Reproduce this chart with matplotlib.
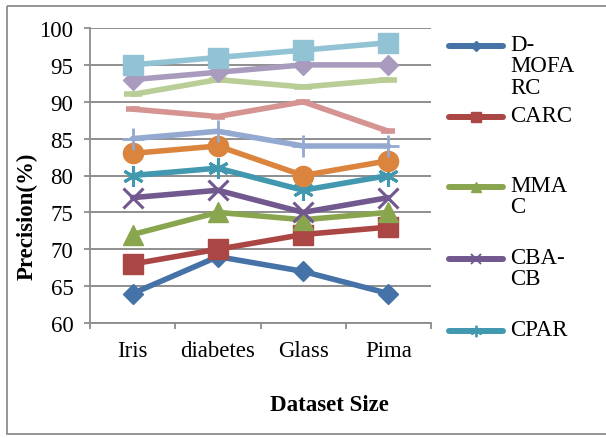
import matplotlib
matplotlib.use("Agg")
import matplotlib.pyplot as plt
from matplotlib.patches import Rectangle
from matplotlib.lines import Line2D

plt.rcParams['font.family'] = ['Liberation Serif', 'DejaVu Serif']

# data
datasets = ["Iris", "diabetes", "Glass", "Pima"]
d_mofarc = [64, 69, 67, 64]
carc = [68, 70, 72, 73]
mmac = [72, 75, 74, 75]
cba_cb = [77, 78, 75, 77]
cpar = [80, 81, 78, 80]
series6 = [83, 84, 80, 82]
series7 = [85, 86, 84, 84]
series8 = [89, 88, 90, 86]
series9 = [91, 93, 92, 93]
series10 = [93, 94, 95, 95]
series11 = [95, 96, 97, 98]

legend_names = ["D-\nMOFA\nRC", "CARC", "MMA\nC", "CBA-\nCB", "CPAR"]
yticks = [60, 65, 70, 75, 80, 85, 90, 95, 100]

# (values, color, marker, markersize, markeredgewidth)
styles = [
    (d_mofarc, "#4572A7", "D", 10, 1),
    (carc, "#AA4643", "s", 14, 1),
    (mmac, "#89A54E", "^", 14, 1),
    (cba_cb, "#71588F", "x", 14, 2.2),
    (cpar, "#4198AF", (6, 2, 0), 15, 2.2),
    (series6, "#DB843D", "o", 14.5, 1),
    (series7, "#93A9CF", "+", 16, 2),
    (series8, "#D59392", "_", 10, 4),
    (series9, "#B9CD96", "_", 13, 4),
    (series10, "#A99BBD", "D", 10, 1),
    (series11, "#92C3D5", "s", 14.5, 1),
]

fig = plt.figure(figsize=(6.06, 4.39), dpi=100)

# overlay axes in pixel coordinates for the frame and the legend
over = fig.add_axes([0, 0, 1, 1], zorder=5)
over.set_xlim(0, 606)
over.set_ylim(439, 0)
over.axis("off")
over.patch.set_alpha(0)
over.add_patch(Rectangle((7, 7), 610, 428, fill=False, edgecolor="#8c8c8c", lw=1.3))

ax = fig.add_axes([90 / 606, 1 - 324 / 439, (431 - 90) / 606, (324 - 29) / 439])
xs = [i + 0.5 for i in range(len(datasets))]
for vals, col, mk, ms, mew in styles:
    ax.plot(xs, vals, color=col, lw=4, marker=mk, ms=ms, mew=mew,
            mec=col, mfc=col, solid_capstyle="round", clip_on=False)

ax.set_xlim(0, 4)
ax.set_ylim(60, 100)
ax.set_yticks(yticks)
ax.set_xticks([0, 1, 2, 3, 4])
ax.set_xticklabels([])
ax.set_xticks(xs, minor=True)
ax.set_xticklabels(datasets, minor=True)
ax.tick_params(axis="x", which="minor", length=0, pad=12, labelsize=16.5)
ax.tick_params(axis="x", which="major", length=4, width=1.3, color="#8c8c8c")
ax.tick_params(axis="y", length=4, width=1.3, color="#8c8c8c", pad=8, labelsize=16.5)
ax.grid(axis="y", color="#868686", lw=1.3)
ax.set_axisbelow(True)
for s in ["top", "right"]:
    ax.spines[s].set_visible(False)
for s in ["left", "bottom"]:
    ax.spines[s].set_color("#8c8c8c")
    ax.spines[s].set_linewidth(1.3)

fig.text(27 / 606, 1 - 216 / 439, "Precision(%)", rotation=90, fontsize=16.5,
         fontweight="bold", ha="center", va="center")
fig.text(329 / 606, 1 - 406 / 439, "Dataset Size", fontsize=16.5,
         fontweight="bold", ha="center", va="center")

# legend (only the visible part of the original)
leg_y = [47, 118, 188, 260, 332]
for (vals, col, mk, ms, mew), name, y in zip(styles[:5], legend_names, leg_y):
    over.add_line(Line2D([449, 503], [y, y], color=col, lw=4.3, solid_capstyle="round"))
    over.add_line(Line2D([476], [y], color=col, marker=mk, ms=ms * 0.55,
                         mew=max(1, mew * 0.6), mec=col, mfc=col))
    over.text(510, y - 12, name, fontsize=16.5, ha="left", va="top", linespacing=1.02)

fig.savefig("out.png", dpi=100)
